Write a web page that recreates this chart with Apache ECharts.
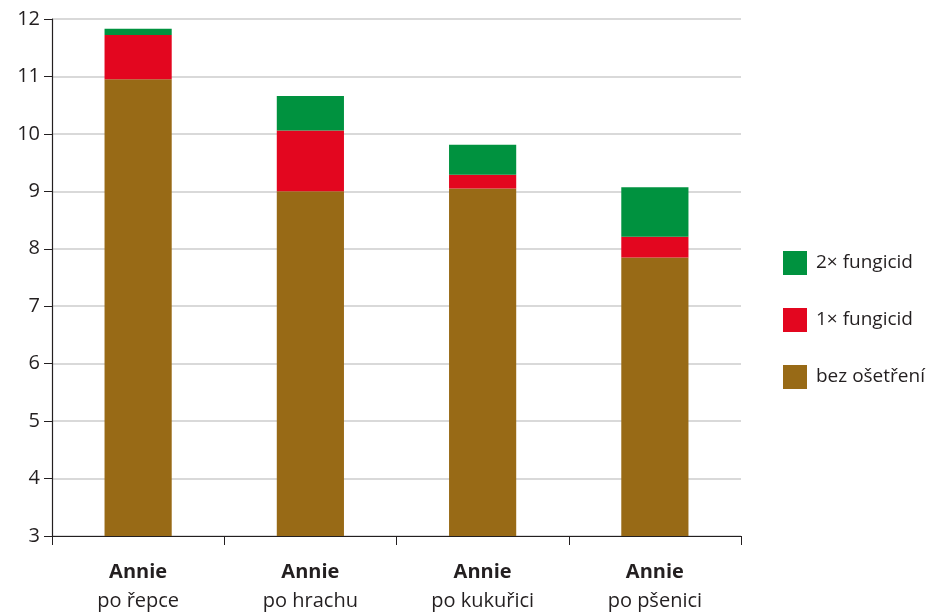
<!DOCTYPE html>
<html>
<head>
<meta charset="utf-8">
<script src="https://cdn.jsdelivr.net/npm/echarts@6/dist/echarts.min.js"></script>
<style>
  html, body { margin: 0; padding: 0; background: #fff; }
  #chart { width: 947px; height: 613px; }
</style>
</head>
<body>
<div id="chart"></div>
<script>
  // data
  const cropNames = ['po řepce', 'po hrachu', 'po kukuřici', 'po pšenici']
  const variety = 'Annie'
  const bezOsetreni = [10.95, 9.0, 9.05, 7.85]
  const fungicid1 = [0.77, 1.06, 0.24, 0.36]
  const fungicid2 = [0.11, 0.60, 0.52, 0.86]
  const yTicks = [3, 12, 1]   // min, max, interval

  const font = '"Open Sans", "Noto Sans", sans-serif'
  const chart = echarts.init(document.getElementById('chart'))

  let option = {
    animation: false,
    textStyle: { fontFamily: font },
    grid: { left: 52, right: 206, top: 19, bottom: 77 },
    legend: {
      orient: 'vertical',
      left: 778,
      top: 246,
      itemWidth: 24,
      itemHeight: 24,
      itemGap: 33,
      icon: 'rect',
      textStyle: { fontSize: 19, color: '#231f20', fontFamily: font, padding: [0, 0, 0, 4] },
      data: ['2× fungicid', '1× fungicid', 'bez ošetření']
    },
    xAxis: {
      type: 'category',
      data: cropNames,
      axisLine: { lineStyle: { color: '#231f20', width: 1.2 } },
      axisTick: { show: true, length: 9, lineStyle: { color: '#231f20' } },
      axisLabel: {
        margin: 22,
        formatter: v => '{b|' + variety + '}\n{n|' + v + '}',
        rich: {
          b: { fontSize: 20, fontWeight: 'bold', color: '#231f20', fontFamily: font, lineHeight: 29 },
          n: { fontSize: 20, color: '#231f20', fontFamily: font, lineHeight: 29 }
        }
      }
    },
    yAxis: {
      type: 'value',
      min: yTicks[0],
      max: yTicks[1],
      interval: yTicks[2],
      axisLine: { show: true, lineStyle: { color: '#231f20', width: 1.2 } },
      axisTick: { show: true, length: 8, lineStyle: { color: '#231f20' } },
      axisLabel: { fontSize: 20, color: '#231f20', margin: 12, fontFamily: font },
      splitLine: { lineStyle: { color: '#cccccc', width: 1.5 } }
    },
    series: [
      { name: 'bez ošetření', type: 'bar', stack: 'y', barWidth: '39%', data: bezOsetreni, itemStyle: { color: '#986a16' } },
      { name: '1× fungicid', type: 'bar', stack: 'y', data: fungicid1, itemStyle: { color: '#e3061f' } },
      { name: '2× fungicid', type: 'bar', stack: 'y', data: fungicid2, itemStyle: { color: '#00923f' } }
    ]
  }
  chart.setOption(option)
</script>
</body>
</html>
